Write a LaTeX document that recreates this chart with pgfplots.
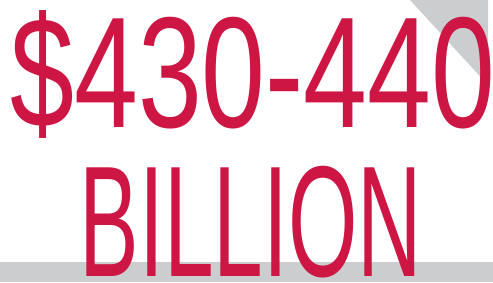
\documentclass[border=0pt]{standalone}
\usepackage{pgfplots}
\pgfplotsset{compat=1.18}
\usepackage{fontspec}
\setmainfont{Liberation Sans}
\definecolor{crim}{RGB}{206,22,68}
\definecolor{lgray}{RGB}{204,205,207}
\begin{document}
\begin{tikzpicture}
\useasboundingbox (0,0) rectangle (493pt,282pt);
\begin{axis}[scale only axis, width=493pt, height=282pt,
  xmin=0, xmax=493, ymin=0, ymax=282, hide axis, clip=false]
\addplot[draw=none, fill=lgray] coordinates {(0,0) (493,0) (493,20) (0,20)} -- cycle;
\addplot[draw=none, fill=lgray] coordinates {(410,282) (488,282) (488,197)} -- cycle;
\node[anchor=base, inner sep=0pt, text=crim] at (axis cs:253,155)
  {\scalebox{0.727}[1]{\fontsize{158}{158}\selectfont \$430-440}};
\node[anchor=base, inner sep=0pt, text=crim] at (axis cs:251,6)
  {\scalebox{0.565}[1]{\fontsize{158}{158}\selectfont BILLION}};
\end{axis}
\end{tikzpicture}
\end{document}
